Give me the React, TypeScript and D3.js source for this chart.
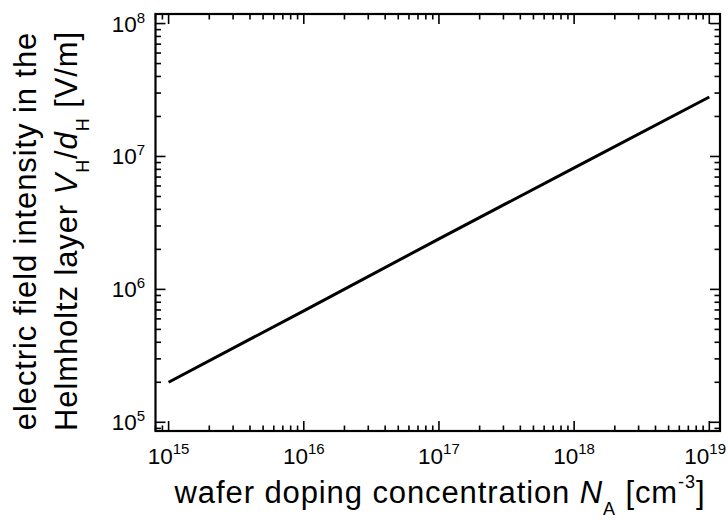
import * as React from 'react'
import * as d3 from 'd3'

// doping concentration N_A [cm^-3] and field V_H/d_H [V/m]
const dopingNA = [1e15, 1e16, 1e17, 1e18, 1e19];
const fieldEH = [2.0e5, 6.9e5, 2.4e6, 8.2e6, 2.8e7];
const xDecades = [15, 16, 17, 18, 19];
const yDecades = [5, 6, 7, 8];

const W = 728;
const H = 520;
const left = 155.5, right = 720, top = 14, bottom = 431;
const font = '"Liberation Sans", Arial, sans-serif';
const titleSize = 31;
const titleSpacing = 0.9;

const App = () => {
    const x = d3.scaleLog().domain([8e14, 1.2e19]).range([left, right]);
    const y = d3.scaleLog().domain([8.6e4, 1.18e8]).range([bottom, top]);

    const isMajor = (t: number) => Math.abs(Math.log10(t) - Math.round(Math.log10(t))) < 1e-6;
    const xTicks = x.ticks().filter(t => t >= 8e14 && t <= 1.2e19);
    const yTicks = y.ticks().filter(t => t >= 8.6e4 && t <= 1.18e8);

    const line = d3.line<number>()
        .x((d, i) => x(dopingNA[i]))
        .y(d => y(d));

    return (
        <svg width={W} height={H} style={{position: 'absolute', left: 0, top: 0}} fontFamily={font}>
            <rect x={0} y={0} width={W} height={H} fill="#fff" />
            {/* ticks, inward on all sides */}
            {xTicks.map((t, i) => {
                const len = isMajor(t) ? 10 : 5.5;
                const px = x(t);
                return (
                    <g key={'xt' + i} stroke="#000" strokeWidth={1.6}>
                        <line x1={px} x2={px} y1={bottom} y2={bottom - len} />
                        <line x1={px} x2={px} y1={top} y2={top + len} />
                    </g>
                );
            })}
            {yTicks.map((t, i) => {
                const len = isMajor(t) ? 10 : 5.5;
                const py = y(t);
                return (
                    <g key={'yt' + i} stroke="#000" strokeWidth={1.6}>
                        <line x1={left} x2={left + len} y1={py} y2={py} />
                        <line x1={right} x2={right - len} y1={py} y2={py} />
                    </g>
                );
            })}
            <rect x={left} y={top} width={right - left} height={bottom - top}
                fill="none" stroke="#000" strokeWidth={2.2} />

            <path d={line(fieldEH) || ''} fill="none" stroke="#000" strokeWidth={3} />

            {/* x tick labels (last one kept inside the page) */}
            {xDecades.map((e, i) => {
                const last = i === xDecades.length - 1;
                return (
                    <text key={'xl' + e} x={last ? 726 : x(Math.pow(10, e))} y={464} fontSize={22.5}
                        textAnchor={last ? 'end' : 'middle'}>
                        10<tspan fontSize={15} dy={-10}>{e}</tspan>
                    </text>
                );
            })}
            {/* y tick labels */}
            {yDecades.map(e => (
                <text key={'yl' + e} x={145} y={y(Math.pow(10, e)) + 8} fontSize={22.5} textAnchor="end">
                    10<tspan fontSize={15} dy={-9}>{e}</tspan>
                </text>
            ))}

            {/* x axis title */}
            <text x={440} y={503} fontSize={titleSize} letterSpacing={titleSpacing} textAnchor="middle">
                wafer doping concentration <tspan fontStyle="italic">N</tspan>
                <tspan fontSize={18} dy={12}>A</tspan>
                <tspan dy={-12}> [cm</tspan>
                <tspan fontSize={18} dy={-15}>-3</tspan>
                <tspan dy={15}>]</tspan>
            </text>

            {/* y axis title */}
            <g transform="translate(36, 231) rotate(-90)">
                <text x={0} y={0} fontSize={titleSize} letterSpacing={titleSpacing} textAnchor="middle">
                    electric field intensity in the
                </text>
            </g>
            <g transform="translate(77, 231) rotate(-90)">
                <text x={0} y={0} fontSize={titleSize} letterSpacing={titleSpacing} textAnchor="middle">
                    Helmholtz layer <tspan fontStyle="italic">V</tspan>
                    <tspan fontSize={18} dy={12}>H</tspan>
                    <tspan dy={-12}>/</tspan>
                    <tspan fontStyle="italic">d</tspan>
                    <tspan fontSize={18} dy={12}>H</tspan>
                    <tspan dy={-12}> [V/m]</tspan>
                </text>
            </g>
        </svg>
    );
}

export default App;
